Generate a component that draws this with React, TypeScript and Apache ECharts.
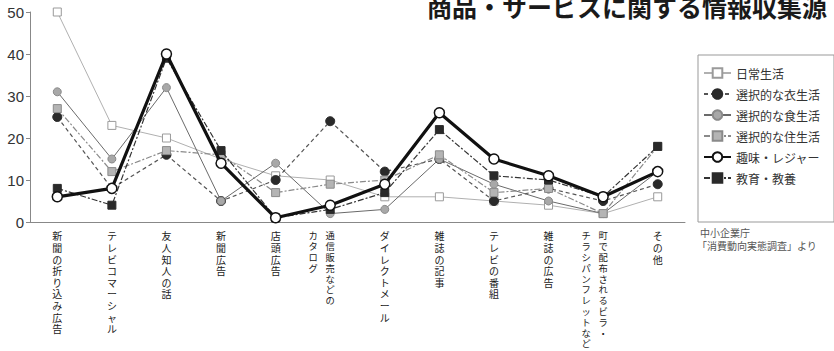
import React, { useEffect, useRef } from "react";
import * as echarts from "echarts";

// Each category label is written vertically; a second entry is a second column,
// drawn to the left of the first (vertical text reads right to left).
const labelColumns: string[][] = [
  ["新聞の折り込み広告"],
  ["テレビコマーシャル"],
  ["友人知人の話"],
  ["新聞広告"],
  ["店頭広告"],
  ["通信販売などの", "カタログ"],
  ["ダイレクトメール"],
  ["雑誌の記事"],
  ["テレビの番組"],
  ["雑誌の広告"],
  ["町で配布されるビラ・", "チラシパンフレットなど"],
  ["その他"],
];
const categories = labelColumns.map((c) => c.join(""));

const yTicks = { min: 0, max: 50, interval: 10 };

const dailyLife = [50, 23, 20, 15, 11, 10, 6, 6, 5, 4, 2, 6];
const clothing = [25, 8, 16, 5, 10, 24, 12, 15, 5, 8, 5, 9];
const food = [31, 15, 32, 5, 14, 2, 3, 15, 9, 5, 2, 12];
const housing = [27, 12, 17, 16, 7, 9, 10, 16, 7, 8, 2, 18];
const leisure = [6, 8, 40, 14, 1, 4, 9, 26, 15, 11, 6, 12];
const education = [8, 4, 39, 17, 1, 3, 7, 22, 11, 10, 6, 18];

const seriesNames = [
  "日常生活",
  "選択的な衣生活",
  "選択的な食生活",
  "選択的な住生活",
  "趣味・レジャー",
  "教育・教養",
];

const titleText = "商品・サービスに関する情報収集源";
const sourceLines = ["中小企業庁", "「消費動向実態調査」より"];

const CJK = "'Noto Sans CJK JP', 'Noto Sans', sans-serif";
const LATIN = "'Liberation Sans', Arial, sans-serif";
// Compact line metrics for stacked and closely spaced small texts.
const STACKED = "'Liberation Sans', 'Noto Sans CJK JP', sans-serif";

const stack = (s: string) => Array.from(s).join("\n");

// First column of each label, one character per line.
function firstColumn(_v: string, index: number): string {
  const cols = labelColumns[index];
  return cols.length === 1 ? "{v|" + stack(cols[0]) + "}" : "{w|" + stack(cols[0]) + "}";
}

// Second column (only for the two-column labels).
function secondColumn(_v: string, index: number): string {
  const cols = labelColumns[index];
  return cols.length > 1 ? "{w|" + stack(cols[1]) + "}" : "";
}

const richStyles = {
  v: { fontSize: 10, lineHeight: 11.6, color: "#1a1a1a", fontFamily: STACKED },
  w: { fontSize: 9.3, lineHeight: 10.8, color: "#1a1a1a", fontFamily: STACKED },
};

// Second grid sits a column-width to the left, carrying the second label column.
const plotGrid = { left: 30, right: 149, top: 12, bottom: 129 };
const columnShift = 17;

export default function App() {
  const ref = useRef<HTMLDivElement>(null);

  useEffect(() => {
    if (!ref.current) return;
    const chart = echarts.init(ref.current, undefined, { renderer: "svg" });

    const option: echarts.EChartsOption = {
      animation: false,
      backgroundColor: "#ffffff",
      textStyle: { fontFamily: CJK },
      title: {
        text: titleText,
        left: 427,
        top: -7,
        padding: 0,
        textStyle: {
          fontSize: 25,
          fontWeight: "bold",
          color: "#1a1a1a",
          fontFamily: CJK,
        },
      },
      grid: [
        { ...plotGrid, containLabel: false },
        {
          left: plotGrid.left - columnShift,
          right: plotGrid.right + columnShift,
          top: plotGrid.top,
          bottom: plotGrid.bottom,
          containLabel: false,
        },
      ],
      xAxis: [
        {
          type: "category",
          gridIndex: 0,
          data: categories,
          boundaryGap: true,
          axisLine: { lineStyle: { color: "#888", width: 1 } },
          axisTick: { inside: true, length: 4, lineStyle: { color: "#888" } },
          axisLabel: {
            interval: 0,
            hideOverlap: false,
            formatter: firstColumn,
            margin: 9,
            color: "#1a1a1a",
            fontFamily: STACKED,
            rich: richStyles,
          },
          splitLine: { show: false },
        },
        {
          type: "category",
          gridIndex: 1,
          data: categories,
          boundaryGap: true,
          axisLine: { show: false },
          axisTick: { show: false },
          axisLabel: {
            interval: 0,
            hideOverlap: false,
            formatter: secondColumn,
            margin: 9,
            color: "#1a1a1a",
            fontFamily: STACKED,
            rich: richStyles,
          },
          splitLine: { show: false },
        },
      ],
      yAxis: [
        {
          type: "value",
          gridIndex: 0,
          min: yTicks.min,
          max: yTicks.max,
          interval: yTicks.interval,
          axisLine: { show: true, lineStyle: { color: "#888", width: 1 } },
          axisTick: { show: true, length: 4, lineStyle: { color: "#888" } },
          axisLabel: { fontSize: 15, color: "#333", margin: 6, fontFamily: LATIN },
          splitLine: { show: false },
        },
        {
          type: "value",
          gridIndex: 1,
          min: yTicks.min,
          max: yTicks.max,
          interval: yTicks.interval,
          show: false,
        },
      ],
      legend: {
        orient: "vertical",
        left: 698,
        top: 55,
        padding: [12, 14, 38, 5],
        itemGap: 9,
        itemWidth: 27,
        itemHeight: 12,
        borderColor: "#999",
        borderWidth: 1,
        textStyle: { fontSize: 12, color: "#333", fontFamily: CJK },
        data: seriesNames,
      },
      graphic: [
        {
          type: "text",
          left: 700,
          top: 228,
          style: { text: sourceLines[0], fontSize: 10, fill: "#555", fontFamily: STACKED },
        },
        {
          type: "text",
          left: 697,
          top: 241,
          style: { text: sourceLines[1], fontSize: 10, fill: "#555", fontFamily: STACKED },
        },
      ],
      series: [
        {
          name: seriesNames[0],
          type: "line",
          data: dailyLife,
          symbol: "rect",
          symbolSize: 8,
          z: 2,
          lineStyle: { color: "#b0b0b0", width: 1 },
          itemStyle: { color: "#ffffff", borderColor: "#9a9a9a", borderWidth: 1 },
        },
        {
          name: seriesNames[1],
          type: "line",
          data: clothing,
          symbol: "circle",
          symbolSize: 9,
          z: 3,
          lineStyle: { color: "#555", width: 1.2, type: [4, 3] },
          itemStyle: { color: "#2a2a2a", borderColor: "#2a2a2a", borderWidth: 1 },
        },
        {
          name: seriesNames[2],
          type: "line",
          data: food,
          symbol: "circle",
          symbolSize: 8,
          z: 3,
          lineStyle: { color: "#6a6a6a", width: 1 },
          itemStyle: { color: "#a8a8a8", borderColor: "#8a8a8a", borderWidth: 1 },
        },
        {
          name: seriesNames[3],
          type: "line",
          data: housing,
          symbol: "rect",
          symbolSize: 8,
          z: 3,
          lineStyle: { color: "#8a8a8a", width: 1.2, type: [6, 2, 2, 2] },
          itemStyle: { color: "#b4b4b4", borderColor: "#8a8a8a", borderWidth: 1 },
        },
        {
          name: seriesNames[4],
          type: "line",
          data: leisure,
          symbol: "circle",
          symbolSize: 10,
          z: 5,
          lineStyle: { color: "#111", width: 3.2 },
          itemStyle: { color: "#ffffff", borderColor: "#111", borderWidth: 1.5 },
        },
        {
          name: seriesNames[5],
          type: "line",
          data: education,
          symbol: "rect",
          symbolSize: 8,
          z: 4,
          lineStyle: { color: "#333", width: 1.2, type: [6, 2, 2, 2] },
          itemStyle: { color: "#2a2a2a", borderColor: "#2a2a2a", borderWidth: 1 },
        },
      ],
    };

    chart.setOption(option);
    return () => chart.dispose();
  }, []);

  return (
    <div
      ref={ref}
      style={{ position: "absolute", left: 0, top: 0, width: 834, height: 351 }}
    />
  );
}
